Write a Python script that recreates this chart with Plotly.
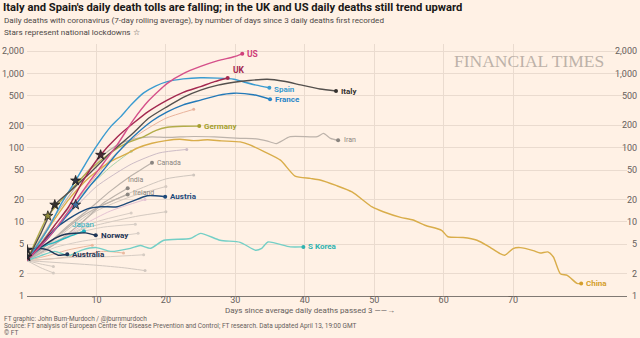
import numpy as np
import plotly.graph_objects as go

# ---- Highlighted countries: days since 3 daily deaths, 7-day avg deaths ----
us_days = [0, 3, 6, 9, 10.6, 13, 15.3, 17.5, 20.2, 22.5, 25, 27.5, 29.8, 31]
us_deaths = [3, 6, 14, 35, 55, 110, 236, 430, 740, 1000, 1250, 1500, 1690, 1850]

uk_days = [0, 2, 4, 6, 8, 10.6, 13, 15.3, 17.5, 20.2, 22.5, 25, 27, 28.9]
uk_deaths = [3, 5, 9, 16, 35, 80, 140, 214, 310, 440, 560, 670, 780, 875]

italy_days = [0, 2, 4, 6, 9, 12, 15.3, 17.5, 20.2, 22.5, 25, 27.5, 29.8, 32, 34.6, 37, 39.4, 42.2, 44.5]
italy_deaths = [3, 7, 17, 25, 45, 85, 158, 250, 360, 480, 600, 700, 765, 810, 840, 790, 705, 620, 583]

spain_days = [0, 3, 5, 7, 9, 10.6, 12, 13.5, 15, 16.8, 18.5, 20.2, 22.5, 25, 27.5, 29.8, 31.5, 33, 34.9]
spain_deaths = [3, 8, 18, 36, 75, 127, 190, 263, 380, 550, 680, 780, 850, 880, 870, 840, 760, 700, 646]

france_days = [0, 3, 5, 7, 9, 10.6, 13, 15.3, 18, 20.2, 22.5, 25, 27.5, 29.8, 32.6, 35]
france_deaths = [3, 6, 10, 17, 30, 45, 85, 141, 230, 305, 380, 440, 510, 545, 520, 451]

germany_days = [0, 3, 6, 9, 12, 14.4, 16.8, 18.5, 20.2, 22.5, 24.8]
germany_deaths = [3, 12, 25, 50, 85, 116, 141, 170, 189, 195, 196]

iran_days = [0, 2, 4, 6, 8, 10, 12, 14, 16, 18, 20, 22, 24, 27, 30.7, 33, 34.5, 35.9, 37.9, 41.8, 42.7, 43.7, 44.8]
iran_deaths = [3, 6, 12, 22, 40, 65, 95, 120, 135, 140, 138, 140, 142, 140, 134, 132, 124, 114, 141, 141, 156, 134, 126]

china_days = [0, 3, 6, 9, 12, 14, 16, 18, 20, 22, 24, 26, 28, 30.7, 32, 34, 36.5, 38.6, 40.8, 42.2,
              44.5, 46.8, 49.7, 51.3, 53.8, 55.6, 57.3, 59.7, 60.6, 62.8, 64.8, 66.4, 68.1, 68.8,
              70, 71, 72.9, 73.9, 75, 75.8, 76.8, 77.8, 79.2, 79.8]
china_deaths = [3, 8, 20, 40, 65, 80, 100, 115, 125, 130, 125, 128, 124, 120, 110, 90, 68, 41.5, 38.6, 36.7,
                31, 25.4, 15.9, 13.7, 11.5, 10.6, 9.0, 7.7, 6.3, 6.15, 5.65, 4.7, 3.74, 3.55,
                4.37, 4.5, 4.1, 3.8, 3.93, 3.36, 2.0, 1.9, 1.48, 1.47]

canada_days = [0, 3, 6, 9, 12, 15, 18]
canada_deaths = [3, 5, 9, 15, 26, 42, 63]

india_days = [0, 4, 8, 11, 14.5]
india_deaths = [3, 5, 10, 18, 28.5]

ireland_days = [0, 4, 8, 11, 14.5]
ireland_deaths = [3, 6, 12, 17, 23.5]

austria_days = [0, 2, 4, 6, 8.7, 10.6, 13, 14.9, 17.3, 18.5, 19.9]
austria_deaths = [3.3, 5, 8, 11, 15, 16, 16, 18.6, 22.5, 22.5, 21.8]

japan_days = [0, 2, 4, 6, 8.2]
japan_deaths = [3, 4.5, 5.3, 6.3, 7.5]

norway_days = [0, 2, 4, 5.5, 8.4, 9.9]
norway_deaths = [4.2, 4.6, 6, 6.8, 7.1, 6.6]

australia_days = [0, 1, 1.9, 3.1, 4.5, 5.8]
australia_deaths = [3.4, 3.8, 4.37, 4.15, 3.55, 3.66]

skorea_days = [0, 2, 4, 6, 8, 10, 12, 14.9, 16.3, 17.8, 19.7, 23.5, 25, 27.8, 30.7, 32.9, 33.8, 34.7, 37.9, 39.8]
skorea_deaths = [3, 3.5, 4, 3.5, 4.2, 4.5, 4.0, 4.4, 4.8, 4.4, 5.65, 5.96, 7.0, 5.65, 5.3, 4.15, 4.4, 5.36, 4.6, 4.6]

# ---- Other countries, drawn faintly in the background ----
other_days = [
    [0, 4, 8, 12, 16, 20, 24],
    [0, 5, 10, 15, 19, 23],
    [0, 6, 10, 15, 20, 24],
    [0, 5, 10, 15, 20],
    [0, 4, 8, 12, 16, 20],
    [0, 5, 10, 15],
    [0, 3, 6, 9.4],
    [0, 4, 8, 11, 13.9],
    [0, 5, 10, 14, 17],
    [0, 6, 12, 16.8],
    [0, 2, 3.8],
    [0, 2, 3.8],
    [0, 4, 8, 12, 16],
    [0, 3, 7, 11, 15.6],
    [0, 3, 6, 9, 12, 15],
    [0, 4, 8, 12, 17],
]
other_deaths = [
    [3, 8, 25, 70, 150, 250, 330],
    [3, 10, 30, 60, 85, 95],
    [3, 8, 15, 25, 38, 43],
    [3, 6, 14, 22, 30],
    [3, 5, 8, 10, 12, 13.7],
    [3, 6, 10, 13.2],
    [3, 3.5, 4.2, 4.85],
    [3, 3.2, 3.6, 4.0, 3.8],
    [3, 2.8, 2.6, 2.4, 2.2],
    [3, 3.3, 3.4, 3.6],
    [3, 2.7, 2.5],
    [3, 2.4, 2.05],
    [3, 4.5, 5.5, 6.2, 7],
    [3, 5, 7, 8.5, 9.3],
    [3, 7, 15, 30, 55, 90],
    [3, 5, 9, 14, 20],
]
other_colors = ["#e9b39c", "#cdbcc6", "#cfc6be", "#d6cac0", "#d3c9c0", "#d8cdc4", "#ebb9a0",
                "#ebb9a0", "#d2c8c0", "#d6ccc3", "#d3c9c0", "#d3c9c0", "#d8cec6", "#d8cec6",
                "#a9d3a8", "#e5c3d3"]

# Lockdown stars: country and day of national lockdown (a day present in its series)
lockdown_country = ["UK", "Spain", "Italy", "France", "Germany", "Norway", "Australia"]
lockdown_day = [10.6, 7, 4, 7, 3, 0, 0]
star_fill = {"UK": "#4a2a35", "Spain": "#2f3540", "Italy": "#33302e", "France": "#3f6fa0",
             "Germany": "#8f8a3a", "Norway": "#262a33", "Australia": "#262a33"}

tick_vals = [1, 2, 5, 10, 20, 50, 100, 200, 500, 1000, 2000]
tick_text = ["1", "2", "5", "10", "20", "50", "100", "200", "500", "1,000", "2,000"]
x_ticks = [10, 20, 30, 40, 50, 60, 70]

FONT = "Liberation Sans Narrow, Roboto, Arial, sans-serif"
BG = "#fff1e5"
GRID = "#eadbcf"
TEXT = "#66605c"

# name, days, deaths, colour, width, label options
highlight = [
    ("Iran", iran_days, iran_deaths, "#bdb3ab", 1.2, dict(weight="normal", dx=4, dy=0, anchor="left", color="#8a8580", size=7)),
    ("Canada", canada_days, canada_deaths, "#bdb3ab", 1.2, dict(weight="normal", dx=3, dy=0, anchor="left", color="#8a8580", size=7)),
    ("India", india_days, india_deaths, "#bdb3ab", 1.2, dict(weight="normal", dx=-2, dy=8, anchor="left", color="#8a8580", size=7)),
    ("Ireland", ireland_days, ireland_deaths, "#bdb3ab", 1.2, dict(weight="normal", dx=3, dy=1, anchor="left", color="#8a8580", size=7)),
    ("China", china_days, china_deaths, "#d9ad4a", 1.4, dict(weight="bold", dx=3, dy=0, anchor="left", color="#d49e2c", size=8)),
    ("S Korea", skorea_days, skorea_deaths, "#74cfc6", 1.4, dict(weight="bold", dx=3, dy=0, anchor="left", color="#2fb3b0", size=8)),
    ("Germany", germany_days, germany_deaths, "#b3ad4a", 1.4, dict(weight="bold", dx=3, dy=0, anchor="left", color="#a59f2e", size=8)),
    ("Japan", japan_days, japan_deaths, "#2ab8c0", 1.4, dict(weight="normal", dx=-1, dy=7, anchor="center", color="#1fb0c0", size=8)),
    ("Australia", australia_days, australia_deaths, "#1e3556", 1.4, dict(weight="bold", dx=3, dy=0, anchor="left", color="#1e3556", size=8)),
    ("Norway", norway_days, norway_deaths, "#1e3556", 1.4, dict(weight="bold", dx=3, dy=0, anchor="left", color="#1e3556", size=8)),
    ("Austria", austria_days, austria_deaths, "#1e4a7a", 1.4, dict(weight="bold", dx=3, dy=0, anchor="left", color="#1e4a7a", size=8)),
    ("France", france_days, france_deaths, "#2379b8", 1.4, dict(weight="bold", dx=3, dy=0, anchor="left", color="#2a86c8", size=8)),
    ("Spain", spain_days, spain_deaths, "#3a9bd0", 1.4, dict(weight="bold", dx=3, dy=-2, anchor="left", color="#3a9bd0", size=8)),
    ("Italy", italy_days, italy_deaths, "#54504d", 1.4, dict(weight="bold", dx=3, dy=0, anchor="left", color="#33302e", size=8)),
    ("UK", uk_days, uk_deaths, "#a3284f", 1.4, dict(weight="bold", dx=3, dy=8, anchor="left", color="#a3284f", size=8.5)),
    ("US", us_days, us_deaths, "#d5508a", 1.4, dict(weight="bold", dx=3, dy=0, anchor="left", color="#d0407a", size=8.5)),
]

fig = go.Figure()

for d, v, c in zip(other_days, other_deaths, other_colors):
    fig.add_trace(go.Scatter(x=d, y=v, mode="lines", line=dict(color=c, width=1, shape="spline", smoothing=0.6),
                             hoverinfo="skip", showlegend=False))
    fig.add_trace(go.Scatter(x=[d[-1]], y=[v[-1]], mode="markers",
                             marker=dict(color=c, size=3), hoverinfo="skip", showlegend=False))

series = {}
for name, d, v, c, w, lab in highlight:
    series[name] = (d, v, c)
    fig.add_trace(go.Scatter(x=d, y=v, mode="lines", line=dict(color=c, width=w, shape="spline", smoothing=0.6),
                             name=name, showlegend=False))
    fig.add_trace(go.Scatter(x=[d[-1]], y=[v[-1]], mode="markers",
                             marker=dict(color=lab["color"], size=4), hoverinfo="skip", showlegend=False))
    txt = f"<b>{name}</b>" if lab["weight"] == "bold" else name
    fig.add_annotation(x=d[-1], y=np.log10(v[-1]), xref="x", yref="y", text=txt, showarrow=False,
                       xanchor=lab["anchor"], yanchor="middle", xshift=lab["dx"], yshift=lab["dy"],
                       font=dict(family=FONT, size=lab["size"], color=lab["color"]))

# National lockdown stars on each country's line
star_x, star_y, star_c = [], [], []
for name, day in zip(lockdown_country, lockdown_day):
    d, v, c = series[name]
    i = d.index(day)
    star_x.append(d[i])
    star_y.append(v[i])
    star_c.append(star_fill[name])
fig.add_trace(go.Scatter(x=star_x, y=star_y, mode="markers",
                         marker=dict(symbol="star", size=7.5, color=star_c, line=dict(color="#1f1d1c", width=0.8)),
                         hoverinfo="skip", showlegend=False))

fig.update_layout(
    width=640, height=338,
    paper_bgcolor=BG, plot_bgcolor=BG,
    margin=dict(l=27, r=13, t=44, b=42),
    font=dict(family=FONT, color=TEXT),
    xaxis=dict(range=[0, 86.4], tickvals=x_ticks, showgrid=True, gridcolor=GRID, gridwidth=1,
               zeroline=False, showline=True, linecolor="#807973", linewidth=1, ticks="",
               automargin=False,
               tickfont=dict(family=FONT, size=9, color=TEXT), ticklabelstandoff=-5),
    yaxis=dict(type="log", range=[0, 3.4], tickvals=tick_vals, ticktext=tick_text,
               showgrid=True, gridcolor=GRID, gridwidth=1, zeroline=False, ticks="",
               automargin=False, showline=False, ticklabelstandoff=2,
               tickfont=dict(family=FONT, size=9, color=TEXT)),
)

# Paper coordinates are relative to the plot area (x: 27..627 px, y: 296..44 px)
def px_x(px):
    return (px - 27) / 600.0


def px_y(py):
    return (296 - py) / 252.0


# Right-hand scale labels, right-aligned against the page edge
for val, lbl in zip(tick_vals, tick_text):
    fig.add_annotation(xref="paper", yref="y", x=px_x(639), y=np.log10(val), text=lbl, showarrow=False,
                       xanchor="right", yanchor="middle", font=dict(family=FONT, size=9, color=TEXT))

text_blocks = [
    dict(px=1, py=7, text="<b>Italy and Spain's daily death tolls are falling; in the UK and US daily deaths still trend upward</b>",
         size=11.2, color="#1a1817", anchor="left"),
    dict(px=2, py=20, text="Daily deaths with coronavirus (7-day rolling average), by number of days since 3 daily deaths first recorded",
         size=8.1, color="#4d4845", anchor="left"),
    dict(px=2, py=32, text="Stars represent national lockdowns ☆",
         size=8.1, color="#4d4845", anchor="left"),
    dict(px=310, py=310, text="Days since average daily deaths passed 3 ——→",
         size=8, color=TEXT, anchor="center"),
    dict(px=2, py=319, text="FT graphic: John Burn-Murdoch / @jburnmurdoch",
         size=6.5, color=TEXT, anchor="left"),
    dict(px=2, py=326, text="Source: FT analysis of European Centre for Disease Prevention and Control; FT research. Data updated April 13, 19:00 GMT",
         size=6.5, color=TEXT, anchor="left"),
    dict(px=2, py=333, text="© FT", size=6.5, color=TEXT, anchor="left"),
]
for b in text_blocks:
    fig.add_annotation(xref="paper", yref="paper", x=px_x(b["px"]), y=px_y(b["py"]), text=b["text"],
                       showarrow=False, xanchor=b["anchor"], yanchor="middle",
                       font=dict(family=FONT, size=b["size"], color=b["color"]))

# Masthead in the chart area
fig.add_annotation(xref="paper", yref="paper", x=px_x(606), y=px_y(61), text="FINANCIAL TIMES", showarrow=False,
                   xanchor="right", yanchor="middle",
                   font=dict(family="Liberation Serif, DejaVu Serif, serif", size=17.5, color="#bdb2a9"))

fig.write_html("out.html")
